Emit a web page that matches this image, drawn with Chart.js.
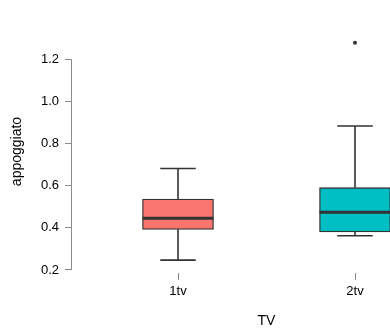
<!DOCTYPE html>
<html>
<head>
<meta charset="utf-8">
<script src="https://cdn.jsdelivr.net/npm/chart.js@4"></script>
<style>
  html, body { margin: 0; padding: 0; background: #fff; }
  #wrap { width: 390px; height: 331px; }
</style>
</head>
<body>
<div id="wrap"><canvas id="chart" width="390" height="331"></canvas></div>
<script>
// values
const categories = ['1tv', '2tv'];
const whiskerLow = [0.247, 0.363];
const q1 = [0.393, 0.381];
const medians = [0.446, 0.474];
const q3 = [0.537, 0.591];
const whiskerHigh = [0.682, 0.884];
const outliers = [[], [1.28]];
const yTicks = [0.2, 0.4, 0.6, 0.8, 1.0, 1.2];
const boxColors = ['#F8766D', '#00BFC4'];
const xTitle = 'TV';

const lineColor = '#333333';
const axisColor = '#8a8a8a';
const font = "'Liberation Sans', Arial, sans-serif";

const boxData = categories.map((c, i) => ({ x: i + 1, y: [q1[i], q3[i]] }));
const outlierData = [];
outliers.forEach((list, i) => list.forEach(v => outlierData.push({ x: i + 1, y: v })));

// whiskers, caps and median drawn from the scales
const boxplotExtras = {
    id: 'boxplotExtras',
    afterDatasetsDraw(chart) {
        const ctx = chart.ctx;
        const xs = chart.scales.x;
        const ys = chart.scales.y;
        const bars = chart.getDatasetMeta(0).data;
        ctx.save();
        ctx.beginPath();
        ctx.rect(chart.chartArea.left, 0, chart.chartArea.right - chart.chartArea.left + 1, chart.height);
        ctx.clip();
        ctx.strokeStyle = lineColor;
        categories.forEach((c, i) => {
            const cx = xs.getPixelForValue(i + 1);
            const half = bars[i].width / 2;
            const cap = half / 2;
            ctx.lineWidth = 1.6;
            ctx.beginPath();
            ctx.moveTo(cx, ys.getPixelForValue(q3[i]));
            ctx.lineTo(cx, ys.getPixelForValue(whiskerHigh[i]));
            ctx.moveTo(cx, ys.getPixelForValue(q1[i]));
            ctx.lineTo(cx, ys.getPixelForValue(whiskerLow[i]));
            ctx.moveTo(cx - cap, ys.getPixelForValue(whiskerHigh[i]));
            ctx.lineTo(cx + cap, ys.getPixelForValue(whiskerHigh[i]));
            ctx.moveTo(cx - cap, ys.getPixelForValue(whiskerLow[i]));
            ctx.lineTo(cx + cap, ys.getPixelForValue(whiskerLow[i]));
            ctx.stroke();
            ctx.lineWidth = 3;
            ctx.beginPath();
            ctx.moveTo(cx - half, ys.getPixelForValue(medians[i]));
            ctx.lineTo(cx + half, ys.getPixelForValue(medians[i]));
            ctx.stroke();
        });
        ctx.restore();
    },
    afterDraw(chart) {
        const ctx = chart.ctx;
        const xs = chart.scales.x;
        const ys = chart.scales.y;
        // y axis line only spans the labelled ticks
        const x = Math.round(chart.chartArea.left) - 0.5;
        ctx.save();
        ctx.strokeStyle = axisColor;
        ctx.lineWidth = 1;
        ctx.beginPath();
        ctx.moveTo(x, ys.getPixelForValue(yTicks[0]));
        ctx.lineTo(x, ys.getPixelForValue(yTicks[yTicks.length - 1]));
        ctx.stroke();
        // x title centred under the categories
        const mid = (xs.getPixelForValue(1) + xs.getPixelForValue(categories.length)) / 2;
        ctx.fillStyle = '#000';
        ctx.font = '14px ' + font;
        ctx.textAlign = 'center';
        ctx.textBaseline = 'middle';
        ctx.fillText(xTitle, mid, 321);
        ctx.restore();
    }
};

new Chart(document.getElementById('chart'), {
    type: 'bar',
    data: {
        datasets: [{
            type: 'bar',
            data: boxData,
            backgroundColor: boxColors,
            borderColor: lineColor,
            borderWidth: 1.3,
            borderSkipped: false,
            barThickness: 71
        }, {
            type: 'scatter',
            data: outlierData,
            pointRadius: 2,
            pointBackgroundColor: lineColor,
            pointBorderWidth: 0
        }]
    },
    options: {
        responsive: false,
        animation: false,
        layout: { autoPadding: false, padding: { top: 30, right: 0, bottom: 0, left: 0 } },
        plugins: { legend: { display: false }, tooltip: { enabled: false } },
        scales: {
            x: {
                type: 'linear',
                offset: false,
                min: 0.4011,
                max: 2.1977,
                afterBuildTicks: (scale) => { scale.ticks = categories.map((c, i) => ({ value: i + 1 })); },
                afterFit: (scale) => {
                    scale.height = 58;
                    scale.paddingLeft = 0;
                    scale.paddingRight = 0;
                },
                border: { display: false },
                grid: { offset: false, drawOnChartArea: false, drawTicks: true, tickLength: 7, color: axisColor },
                ticks: {
                    callback: (v) => categories[v - 1],
                    color: '#000',
                    padding: 4,
                    maxRotation: 0,
                    font: { family: font, size: 13 }
                },
                title: { display: false }
            },
            y: {
                min: 0.1857,
                max: 1.340,
                afterBuildTicks: (scale) => { scale.ticks = yTicks.map(v => ({ value: v })); },
                afterFit: (scale) => { scale.width = 72; },
                border: { display: false },
                grid: { drawOnChartArea: false, drawTicks: true, tickLength: 7, color: axisColor },
                ticks: {
                    callback: (v) => v.toFixed(1),
                    color: '#000',
                    padding: 6,
                    font: { family: font, size: 13 }
                },
                title: {
                    display: true,
                    text: 'appoggiato',
                    color: '#000',
                    padding: { top: 9, bottom: 0 },
                    font: { family: font, size: 14 }
                }
            }
        }
    },
    plugins: [boxplotExtras]
});
</script>
</body>
</html>
